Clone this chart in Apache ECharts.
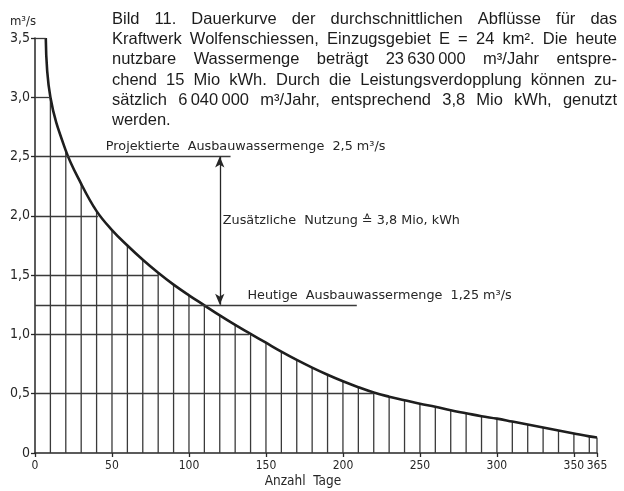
<!DOCTYPE html>
<html>
<head>
<meta charset="utf-8">
<script src="https://cdn.jsdelivr.net/npm/echarts@6/dist/echarts.min.js"></script>
<style>
html,body{margin:0;padding:0;background:#fff;}
#c{width:624px;height:491px;}
</style>
</head>
<body>
<div id="c"></div>
<script>
// ---- data ----
const days = [7, 10, 20, 30, 40, 50, 60, 70, 80, 90, 100, 110, 120, 130, 140, 150, 160, 170, 180, 190, 200, 210, 220, 230, 240, 250, 260, 270, 280, 290, 300, 310, 320, 330, 340, 350, 360, 365];
const flow = [3.5, 3.0, 2.55, 2.27, 2.04, 1.88, 1.75, 1.63, 1.52, 1.42, 1.33, 1.245, 1.16, 1.08, 1.005, 0.93, 0.855, 0.785, 0.72, 0.66, 0.605, 0.555, 0.51, 0.475, 0.445, 0.415, 0.39, 0.36, 0.335, 0.31, 0.29, 0.265, 0.24, 0.215, 0.19, 0.165, 0.14, 0.13];
const gridLevels = [0.5, 1.0, 1.5, 2.0, 3.0, 3.5];
const gridEnds = [220, 139, 80, 41, 10, 7];
const projLevel = 2.5, projEnd = 127;
const todayLevel = 1.25, todayEnd = 209;
const arrowDay = 120;
const xTicks = [0, 50, 100, 150, 200, 250, 300, 350, 365];
const yTicks = [0, 0.5, 1.0, 1.5, 2.0, 2.5, 3.0, 3.5];
const labelProj = 'Projektierte  Ausbauwassermenge  2,5 m³/s';
const labelAdd = 'Zusätzliche  Nutzung ≙ 3,8 Mio, kWh';
const labelToday = 'Heutige  Ausbauwassermenge  1,25 m³/s';
const unitLabel = 'm³/s';
const xName = 'Anzahl  Tage';
const caption = [
  'Bild 11. Dauerkurve der durchschnittlichen Abflüsse für das',
  'Kraftwerk Wolfenschiessen, Einzugsgebiet E = 24 km². Die heute',
  'nutzbare Wassermenge beträgt 23\u2009630\u2009000 m³/Jahr entspre-',
  'chend 15 Mio kWh. Durch die Leistungsverdopplung können zu-',
  'sätzlich 6\u2009040\u2009000 m³/Jahr, entsprechend 3,8 Mio kWh, genutzt',
  'werden.'
];

const INK = '#262626';
const FONT = '"DejaVu Sans Condensed", "DejaVu Sans", sans-serif';
const ANN = '"DejaVu Sans", sans-serif';
const chart = echarts.init(document.getElementById('c'));

const curveData = days.map((d, i) => [d, flow[i]]);
const barData = curveData.filter(p => p[0] >= 10);
const hLines = gridLevels.map((v, i) => [{coord: [0, v]}, {coord: [gridEnds[i], v]}]);
hLines.push([{coord: [0, projLevel]}, {coord: [projEnd, projLevel]}]);
hLines.push([{coord: [0, todayLevel]}, {coord: [todayEnd, todayLevel]}]);

chart.setOption({
  animation: false,
  grid: {left: 35, right: 27, top: 38, bottom: 38, outerBoundsMode: 'none', containLabel: false},
  xAxis: {
    type: 'value', min: 0, max: 365,
    axisLine: {lineStyle: {color: INK, width: 1.5}},
    axisTick: {show: true, length: 4, lineStyle: {color: INK, width: 1.3}, customValues: xTicks},
    axisLabel: {color: INK, fontFamily: FONT, fontSize: 12, margin: 7, hideOverlap: false, customValues: xTicks},
    splitLine: {show: false}
  },
  yAxis: {
    type: 'value', min: 0, max: 3.5,
    axisLine: {show: true, lineStyle: {color: INK, width: 1.5}},
    axisTick: {show: true, length: 4, lineStyle: {color: INK, width: 1.3}, customValues: yTicks},
    axisLabel: {color: INK, fontFamily: FONT, fontSize: 14, margin: 5, customValues: yTicks,
      formatter: v => (v === 0 ? '0' : v.toFixed(1).replace('.', ','))},
    splitLine: {show: false}
  },
  series: [
    {
      type: 'bar', data: barData, barWidth: 1.3, silent: true,
      itemStyle: {color: '#3a3a3a'}, z: 1
    },
    {
      type: 'line', data: curveData, smooth: 0.4,
      showSymbol: false, silent: true, z: 3,
      lineStyle: {color: '#1e1e1e', width: 2.6},
      markLine: {
        silent: true, symbol: ['none', 'none'], label: {show: false},
        lineStyle: {color: '#3a3a3a', width: 1.3, type: 'solid'},
        data: hLines
      }
    },
    {
      type: 'line', data: [], silent: true, z: 4,
      markLine: {
        silent: true, symbol: ['arrow', 'arrow'], symbolSize: [7, 11],
        label: {show: false},
        lineStyle: {color: INK, width: 1.3, type: 'solid'},
        data: [[{coord: [arrowDay, projLevel]}, {coord: [arrowDay, todayLevel]}]]
      }
    }
  ]
});

// ---- texts ----
const px = (x, y) => chart.convertToPixel({gridIndex: 0}, [x, y]);
const graphics = [];
const annFont = '12.8px ' + ANN;
let p = px(46, projLevel);
graphics.push({type: 'text', x: p[0], y: p[1] - 3, style: {text: labelProj, font: annFont, fill: INK, align: 'left', verticalAlign: 'bottom'}});
p = px(arrowDay, 1.96);
graphics.push({type: 'text', x: p[0] + 3, y: p[1], style: {text: labelAdd, font: annFont, fill: INK, align: 'left', verticalAlign: 'middle'}});
p = px(138, todayLevel);
graphics.push({type: 'text', x: p[0], y: p[1] - 3, style: {text: labelToday, font: annFont, fill: INK, align: 'left', verticalAlign: 'bottom'}});
p = px(0, 3.5);
graphics.push({type: 'text', x: p[0] - 12, y: p[1] - 16, style: {text: unitLabel, font: '13px ' + FONT, fill: INK, align: 'center', verticalAlign: 'middle'}});
p = px(174, 0);
graphics.push({type: 'text', x: p[0], y: p[1] + 28, style: {text: xName, font: '13.5px ' + FONT, fill: INK, align: 'center', verticalAlign: 'middle'}});

// justified caption
const capFont = '16.5px "Liberation Sans", Arial, sans-serif';
const ctx = document.createElement('canvas').getContext('2d');
ctx.font = capFont;
const capLeft = 112, capRight = 617;
caption.forEach((line, i) => {
  const words = line.split(' ');
  const widths = words.map(w => ctx.measureText(w).width);
  const total = widths.reduce((a, b) => a + b, 0);
  const last = i === caption.length - 1;
  const gap = last || words.length < 2 ? ctx.measureText(' ').width : (capRight - capLeft - total) / (words.length - 1);
  let x = capLeft;
  const y = 19.5 + i * 20.2;
  words.forEach((w, k) => {
    graphics.push({type: 'text', x: x, y: y, style: {text: w, font: capFont, fill: '#1c1c1c', align: 'left', verticalAlign: 'middle'}});
    x += widths[k] + gap;
  });
});
chart.setOption({graphic: graphics});
</script>
</body>
</html>
